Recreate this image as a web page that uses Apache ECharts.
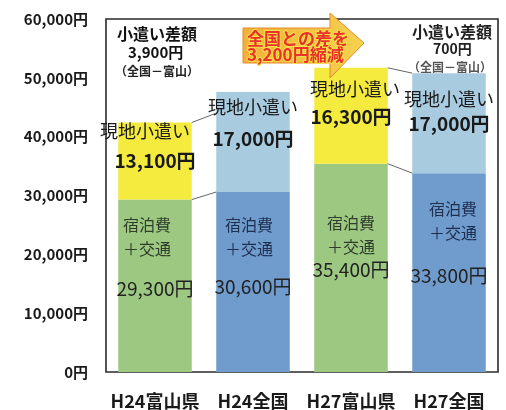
<!DOCTYPE html>
<html><head><meta charset="utf-8">
<script src="https://cdn.jsdelivr.net/npm/echarts@6/dist/echarts.min.js"></script>
<style>html,body{margin:0;padding:0;background:#fff}#c{width:506px;height:410px}</style>
</head><body><div id="c"></div>
<script>
// ---- data ----
const categories = ['H24富山県', 'H24全国', 'H27富山県', 'H27全国'];
const lodgingTransport = [29300, 30600, 35400, 33800];   // 宿泊費＋交通
const pocketMoney = [13100, 17000, 16300, 17000];        // 現地小遣い
const yMin = 0, yMax = 60000, yInterval = 10000;
// connector lines: [from category index, value at left bar, value at next bar]
const connectorFrom = [0, 0, 2, 2];
const connectorStartValue = [42400, 29300, 51700, 35400];
const connectorEndValue = [44000, 30600, 50800, 33800];

// ---- styles / layout ----
const bottomColors = ['#9dc882', '#6f9bcd', '#9dc882', '#6f9bcd'];
const topColors = ['#f4eb3e', '#a9cbe0', '#f4eb3e', '#a9cbe0'];
const bottomTextColors = ['#2f3d2a', '#1f2f4f', '#2f3d2a', '#1f2f4f'];
// label layout: [y offset from segment top, value line height, x shift of first line]
const bottomLabelLayout = [[13, 56, -8], [21, 52, -4], [47, 22, 0], [24, 62, 4]];
const topLabelLayout = [[-3, 34, -10], [3, 40, 0], [9, 32, 4], [14, 26, 0]];
const FONT = '"Noto Sans CJK JP", "Noto Sans", sans-serif';

const fmt = v => v.toLocaleString('en-US') + '円';

const bottomData = lodgingTransport.map((v, i) => {
  const [dy, lh, sx] = bottomLabelLayout[i];
  return {
    value: v,
    itemStyle: { color: bottomColors[i] },
    label: {
      show: true, position: ['50%', dy], align: 'center', verticalAlign: 'top',
      formatter: '{a|宿泊費}\n{a|＋交通}\n{v|' + fmt(v) + '}',
      rich: {
        a: { fontSize: 16, lineHeight: 24, color: bottomTextColors[i], fontFamily: FONT, padding: sx < 0 ? [0, -2 * sx, 0, 0] : [0, 0, 0, 2 * sx] },
        v: { fontSize: 19, lineHeight: lh, color: '#222', fontFamily: FONT }
      }
    }
  };
});
const topData = pocketMoney.map((v, i) => {
  const [dy, lh, sx] = topLabelLayout[i];
  return {
    value: v,
    itemStyle: { color: topColors[i] },
    label: {
      show: true, position: ['50%', dy], align: 'center', verticalAlign: 'top',
      formatter: '{a|現地小遣い}\n{v|' + fmt(v) + '}',
      rich: {
        a: { fontSize: 18, lineHeight: 24, color: '#1a1a1a', fontFamily: FONT, padding: sx < 0 ? [0, -2 * sx, 0, 0] : [0, 0, 0, 2 * sx] },
        v: { fontSize: 19, lineHeight: lh, color: '#1a1a1a', fontFamily: FONT, fontWeight: 'bold' }
      }
    }
  };
});

const connectorData = connectorFrom.map((c, i) => [c, connectorStartValue[i], connectorEndValue[i]]);

const diffH24 = pocketMoney[1] - pocketMoney[0];
const diffH27 = pocketMoney[3] - pocketMoney[2];
const reduced = diffH24 - diffH27;

const chart = echarts.init(document.getElementById('c'), null, { renderer: 'canvas' });
chart.setOption({
  backgroundColor: '#fff',
  animation: false,
  grid: { left: 106, right: 8, top: 19, bottom: 32, show: true, borderColor: '#2a2a2a', borderWidth: 1.6, backgroundColor: 'transparent' },
  xAxis: {
    type: 'category', data: categories,
    axisLine: { show: false }, axisTick: { show: false },
    axisLabel: { fontSize: 18, fontWeight: 'bold', color: '#1a1a1a', margin: 20, fontFamily: FONT, interval: 0 }
  },
  yAxis: {
    type: 'value', min: yMin, max: yMax, interval: yInterval,
    axisLine: { show: false }, axisTick: { show: false }, splitLine: { show: false },
    axisLabel: { formatter: v => fmt(v), fontSize: 15, fontWeight: 'bold', color: '#1a1a1a', margin: 18, fontFamily: FONT }
  },
  series: [
    { type: 'bar', stack: 'total', barWidth: '75%', data: bottomData, z: 2 },
    { type: 'bar', stack: 'total', barWidth: '75%', data: topData, z: 2 },
    {
      type: 'custom', data: connectorData, z: 3, encode: { x: 0, y: [1, 2] }, silent: true,
      renderItem: (params, api) => {
        const i = api.value(0);
        const a = api.coord([i, api.value(1)]);
        const b = api.coord([i + 1, api.value(2)]);
        const half = api.size([1, 0])[0] * 0.375;
        return { type: 'line', shape: { x1: a[0] + half, y1: a[1], x2: b[0] - half, y2: b[1] }, style: { stroke: '#666', lineWidth: 1 } };
      }
    }
  ],
  graphic: [
    { type: 'text', left: 117, top: 26, style: { text: '小遣い差額', font: 'bold 16px ' + FONT, fill: '#111' } },
    { type: 'text', left: 128, top: 45, style: { text: fmt(diffH24), font: 'bold 15px ' + FONT, fill: '#111' } },
    { type: 'text', left: 115, top: 65, style: { text: '（全国－富山）', font: 'bold 12px ' + FONT, fill: '#222' } },
    { type: 'text', left: 412, top: 24, style: { text: '小遣い差額', font: 'bold 16px ' + FONT, fill: '#222' } },
    { type: 'text', left: 433, top: 42, style: { text: fmt(diffH27), font: 'bold 14px ' + FONT, fill: '#222' } },
    { type: 'text', left: 408, top: 61, style: { text: '（全国－富山）', font: 'bold 12px ' + FONT, fill: '#555' } },
    {
      type: 'polygon', z: 10,
      shape: { points: [[243, 28], [330, 28], [330, 13], [364, 43], [330, 78], [330, 63], [243, 63]] },
      style: {
        fill: new echarts.graphic.LinearGradient(0, 0, 1, 0, [{ offset: 0, color: '#f2b03a' }, { offset: 1, color: '#f5d24e' }]),
        stroke: '#e58a2a', lineWidth: 1
      }
    },
    { type: 'text', z: 11, left: 246, top: 29, style: { text: '全国との差を', font: 'bold 17px ' + FONT, fill: '#e8322a', stroke: '#f6e04a', lineWidth: 2 } },
    { type: 'text', z: 11, left: 246, top: 45, style: { text: fmt(reduced) + '縮減', font: 'bold 17px ' + FONT, fill: '#e8322a', stroke: '#f6e04a', lineWidth: 2 } }
  ]
});
</script></body></html>
